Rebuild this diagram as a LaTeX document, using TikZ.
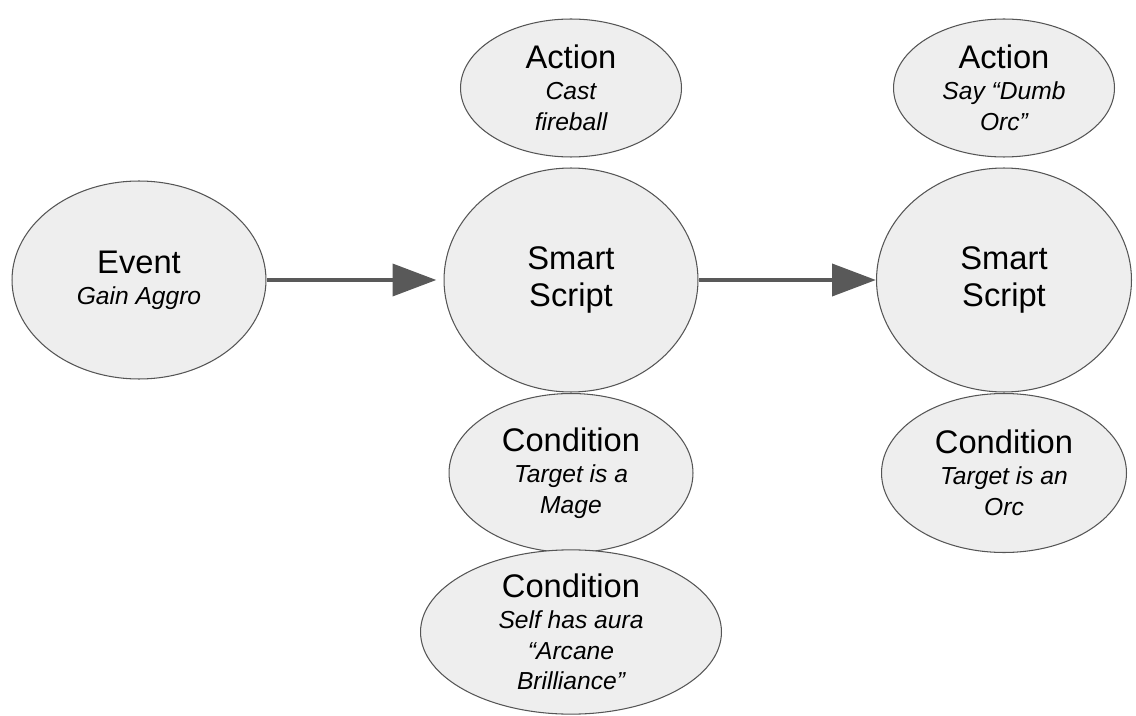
\documentclass[tikz,border=0pt]{standalone}
\usepackage{fontspec}
\setmainfont{Liberation Sans}
\usetikzlibrary{shapes.geometric,arrows.meta}

\definecolor{bubblefill}{HTML}{EEEEEE}
\definecolor{bubbleline}{HTML}{555555}
\definecolor{linkgray}{HTML}{595959}
\newcommand{\hd}[1]{{\upshape\fontsize{18.6}{21.5}\selectfont #1}}

\begin{document}
\begin{tikzpicture}[x=0.02cm,y=-0.02cm,
    bubble/.style={ellipse, draw=bubbleline, fill=bubblefill, line width=0.6pt,
      inner sep=0pt, align=center, text=black,
      font=\fontsize{14}{17.5}\selectfont\itshape},
    link/.style={draw=linkgray, line width=2.8pt,
      -{Triangle[length=25pt,width=18pt]}}]
          \useasboundingbox (0,0) rectangle (1136,716);
          % left event
          \node[bubble, minimum width=5.08cm, minimum height=3.96cm] (event) at (139, 280) {\hd{Event}\\Gain Aggro};
          % first script and its parts
          \node[bubble, minimum width=4.42cm, minimum height=2.76cm] (action1) at (571, 88) {\hd{Action}\\Cast\\fireball};
          \node[bubble, minimum width=5.08cm, minimum height=4.48cm] (script1) at (571, 280) {\hd{Smart}\\[4pt]\hd{Script}};
          \node[bubble, minimum width=4.88cm, minimum height=3.18cm] (cond1) at (571, 473) {\hd{Condition}\\Target is a\\Mage};
          \node[bubble, minimum width=6.02cm, minimum height=3.16cm] (cond2) at (571, 632) {\hd{Condition}\\Self has aura\\“Arcane\\Brilliance”};
          % second script and its parts
          \node[bubble, minimum width=4.42cm, minimum height=2.76cm] (action2) at (1004, 88) {\hd{Action}\\Say “Dumb\\Orc”};
          \node[bubble, minimum width=5.10cm, minimum height=4.48cm] (script2) at (1004, 280) {\hd{Smart}\\[4pt]\hd{Script}};
          \node[bubble, minimum width=4.90cm, minimum height=3.18cm] (cond3) at (1004, 473) {\hd{Condition}\\Target is an\\Orc};
          %
          \draw[link, shorten >=4pt] (event) -- (script1);
          \draw[link] (script1) -- (script2);
        \end{tikzpicture}
\end{document}
